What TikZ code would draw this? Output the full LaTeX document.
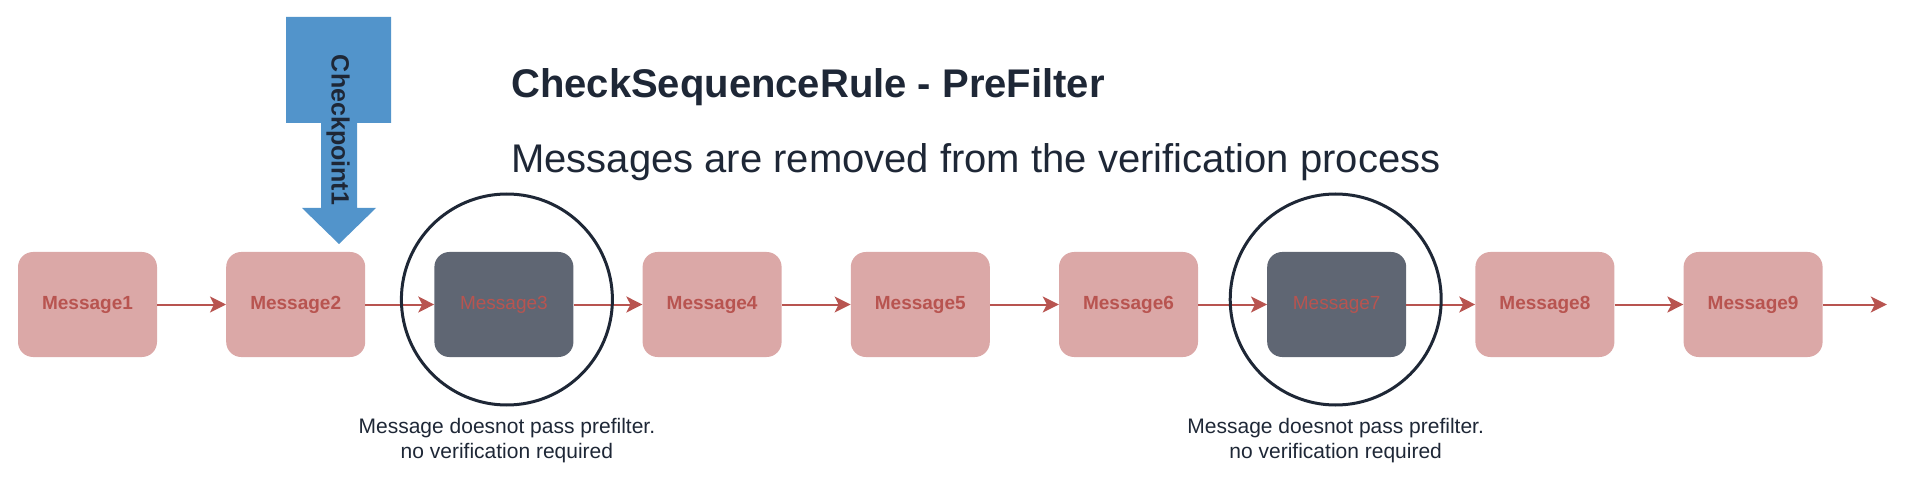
\documentclass[tikz,border=0pt]{standalone}
\usepackage{fontspec}
\setmainfont{Liberation Sans}
\usepackage{tikz}
\usetikzlibrary{shapes,positioning,arrows.meta,calc}

\definecolor{msgfill}{HTML}{DBA8A7}
\definecolor{msgred}{HTML}{B85450}
\definecolor{dropfill}{HTML}{5F6673}
\definecolor{navy}{HTML}{1E2736}
\definecolor{cpblue}{HTML}{5294CB}

\begin{document}
\begin{tikzpicture}[x=1pt, y=-1pt, node distance=68.8pt,
    msg/.style={rectangle, rounded corners=15pt, fill=msgfill, text=msgred,
      minimum width=139pt, minimum height=105pt, inner sep=0pt,
      font=\fontsize{19}{23}\selectfont\bfseries},
    dropped/.style={msg, fill=dropfill, font=\fontsize{19}{23}\selectfont},
    ring/.style={circle, draw=navy, line width=3pt, minimum size=211pt, inner sep=0pt},
    note/.style={text=navy, align=center, inner sep=0pt, font=\fontsize{21}{25}\selectfont},
    flow/.style={draw=msgred, line width=2pt, -{Stealth[length=16pt, width=16pt, inset=4pt]}}]
  \useasboundingbox (0,0) rectangle (1920,489);

  % title
  \node[anchor=base west, text=navy, inner sep=0pt, font=\fontsize{40}{48}\selectfont\bfseries]
    (title) at (511,98) {CheckSequenceRule - PreFilter};
  \node[anchor=base west, text=navy, inner sep=0pt, font=\fontsize{40}{48}\selectfont]
    (subtitle) at (511,173) {Messages are removed from the verification process};

  % message chain
  \node[msg] (m1) at (87.5,304.5) {Message1};
  \node[msg, right=of m1] (m2) {Message2};
  \node[dropped, right=of m2] (m3) {Message3};
  \node[msg, right=of m3] (m4) {Message4};
  \node[msg, right=of m4] (m5) {Message5};
  \node[msg, right=of m5] (m6) {Message6};
  \node[dropped, right=of m6] (m7) {Message7};
  \node[msg, right=of m7] (m8) {Message8};
  \node[msg, right=of m8] (m9) {Message9};
  \coordinate[right=64pt of m9] (out);

  \draw[flow] (m1) -- (m2);
  \draw[flow] (m2) -- (m3);
  \draw[flow] (m3) -- (m4);
  \draw[flow] (m4) -- (m5);
  \draw[flow] (m5) -- (m6);
  \draw[flow] (m6) -- (m7);
  \draw[flow] (m7) -- (m8);
  \draw[flow] (m8) -- (m9);
  \draw[flow] (m9) -- (out);

  % filtered out
  \node[ring] (ring3) at ([xshift=3pt, yshift=5pt]m3.center) {};
  \node[ring] (ring7) at ([xshift=-1pt, yshift=5pt]m7.center) {};
  \node[note, below=12pt of ring3] (note3) {Message doesnot pass prefilter.\\no verification required};
  \node[note, below=12pt of ring7] (note7) {Message doesnot pass prefilter.\\no verification required};

  % checkpoint
  \fill[cpblue] (286,17) -- (391,17) -- (391,123) -- (357,123) -- (357,208) -- (376,208)
    -- (339,244) -- (302,208) -- (321,208) -- (321,123) -- (286,123) -- cycle;
  \node[rotate=-90, text=navy, font=\fontsize{25}{29}\selectfont\bfseries] (cp) at (338,130) {Checkpoint1};
\end{tikzpicture}
\end{document}
